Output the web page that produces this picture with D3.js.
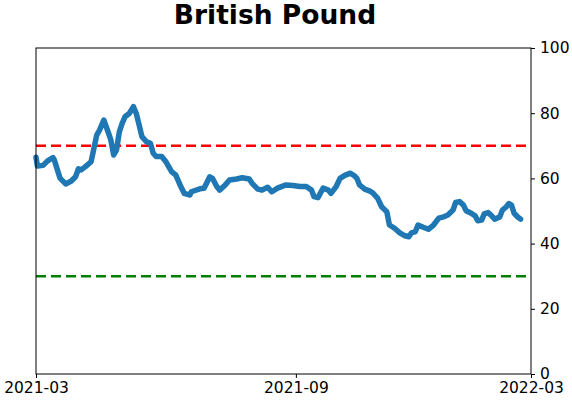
<!DOCTYPE html>
<html>
<head>
<meta charset="utf-8">
<script src="https://cdn.jsdelivr.net/npm/d3@7"></script>
<style>
  body { margin: 0; background: #fff; }
  text { font-family: "DejaVu Sans", sans-serif; }
</style>
</head>
<body>
<div id="chart"></div>
<script>
// values
var dates = [
  "2021-03-01","2021-03-02","2021-03-06","2021-03-09","2021-03-13","2021-03-14","2021-03-18","2021-03-22",
  "2021-03-26","2021-03-29","2021-03-31","2021-04-02","2021-04-05","2021-04-09","2021-04-11","2021-04-13",
  "2021-04-15","2021-04-18","2021-04-21","2021-04-23","2021-04-25","2021-04-27","2021-04-29","2021-05-01",
  "2021-05-03","2021-05-06","2021-05-09","2021-05-11","2021-05-13","2021-05-15","2021-05-18","2021-05-21",
  "2021-05-23","2021-05-25","2021-05-29","2021-06-01","2021-06-05","2021-06-08","2021-06-11","2021-06-14",
  "2021-06-18","2021-06-19","2021-06-25","2021-06-28","2021-07-02","2021-07-04","2021-07-07","2021-07-09",
  "2021-07-13","2021-07-16","2021-07-21","2021-07-25","2021-07-30","2021-08-01","2021-08-05","2021-08-08",
  "2021-08-12","2021-08-15","2021-08-19","2021-08-25","2021-08-30","2021-09-04","2021-09-09","2021-09-13",
  "2021-09-15","2021-09-18","2021-09-22","2021-09-26","2021-09-28","2021-10-02","2021-10-05","2021-10-09",
  "2021-10-13","2021-10-16","2021-10-18","2021-10-20","2021-10-24","2021-10-28","2021-10-30","2021-11-03",
  "2021-11-06","2021-11-10","2021-11-12","2021-11-16","2021-11-20","2021-11-24","2021-11-27","2021-11-29",
  "2021-12-02","2021-12-04","2021-12-08","2021-12-12","2021-12-16","2021-12-20","2021-12-23","2021-12-27",
  "2021-12-31","2022-01-02","2022-01-05","2022-01-08","2022-01-10","2022-01-14","2022-01-17","2022-01-19",
  "2022-01-22","2022-01-24","2022-01-27","2022-01-29","2022-02-01","2022-02-05","2022-02-07","2022-02-10",
  "2022-02-12","2022-02-14","2022-02-16","2022-02-19","2022-02-21"
];
var values = [
  66.5,63.8,64.0,65.3,66.4,65.6,60.1,58.3,
  59.2,60.5,62.9,62.6,63.6,65.1,69.2,73.3,
  74.8,77.9,74.3,71.8,67.2,68.7,74.3,76.9,
  78.9,79.9,82.0,79.9,76.4,72.8,71.3,70.8,
  67.7,66.7,66.7,65.1,62.1,61.0,58.0,55.4,
  54.9,55.9,56.8,57.0,60.5,60.0,57.5,56.4,
  58.0,59.5,59.8,60.2,59.8,58.5,56.7,56.4,
  57.3,55.9,57.0,58.0,57.8,57.5,57.5,56.4,
  54.4,54.1,57.0,56.4,55.4,57.5,60.0,61.0,
  61.6,60.8,60.0,58.0,56.7,56.1,55.6,53.9,
  51.3,49.8,45.7,44.7,43.3,42.4,42.1,43.3,
  43.7,45.7,45.0,44.4,45.7,47.8,48.1,48.8,
  50.3,52.6,52.9,51.8,50.1,49.3,48.5,47.0,
  47.2,49.1,49.5,48.8,47.5,48.2,50.3,51.3,
  52.3,51.8,49.3,48.1,47.5
];
var xTicks = ["2021-03-01", "2021-09-01", "2022-03-01"];
var yTicks = [0, 20, 40, 60, 80, 100];
var upperLevel = 70, lowerLevel = 30;

var parse = d3.timeParse("%Y-%m-%d");
var data = dates.map(function(d, i) { return {date: parse(d), value: values[i]}; });

var W = 572, H = 402;
var margin = {top: 48, right: 41, bottom: 28, left: 36},
    width = W - margin.left - margin.right,
    height = H - margin.top - margin.bottom;

var svg = d3.select("#chart").append("svg")
    .attr("width", W)
    .attr("height", H);

var g = svg.append("g")
    .attr("transform", "translate(" + margin.left + "," + margin.top + ")");

// the middle tick sits a bit right of centre in the reference
var x = d3.scaleTime()
    .domain(xTicks.map(parse))
    .range([0, width * 0.525, width]);

var y = d3.scaleLinear()
    .domain([0, 100])
    .range([height, 0]);

// threshold lines
g.append("line")
    .attr("x1", 0).attr("x2", width)
    .attr("y1", y(upperLevel)).attr("y2", y(upperLevel))
    .style("stroke", "#ff0000")
    .style("stroke-width", 2.5)
    .style("stroke-dasharray", "10,5");

g.append("line")
    .attr("x1", 0).attr("x2", width)
    .attr("y1", y(lowerLevel)).attr("y2", y(lowerLevel))
    .style("stroke", "#008000")
    .style("stroke-width", 2.5)
    .style("stroke-dasharray", "10,5");

var line = d3.line()
    .x(function(d) { return x(d.date); })
    .y(function(d) { return y(d.value); });

g.append("path")
    .datum(data)
    .attr("d", line)
    .style("fill", "none")
    .style("stroke", "#1f77b4")
    .style("stroke-width", 5.5)
    .style("stroke-linejoin", "round")
    .style("stroke-linecap", "round");

// frame
g.append("rect")
    .attr("width", width)
    .attr("height", height)
    .style("fill", "none")
    .style("stroke", "#000")
    .style("stroke-width", 1);

var xAxis = g.append("g")
    .attr("transform", "translate(0," + height + ")")
    .call(d3.axisBottom(x)
      .tickValues(xTicks.map(parse))
      .tickFormat(d3.timeFormat("%Y-%m"))
      .tickSize(4)
      .tickPadding(4));

var yAxis = g.append("g")
    .attr("transform", "translate(" + width + ",0)")
    .call(d3.axisRight(y)
      .tickValues(yTicks)
      .tickSize(4)
      .tickPadding(5));

[xAxis, yAxis].forEach(function(a) {
  a.select(".domain").remove();
  a.selectAll("text")
    .style("font-family", "DejaVu Sans, sans-serif")
    .style("font-size", "15.5px")
    .style("fill", "#000");
  a.selectAll("line").style("stroke", "#000");
});

svg.append("text")
    .attr("x", 275)
    .attr("y", 24)
    .attr("text-anchor", "middle")
    .style("font-size", "26.5px")
    .style("font-weight", "bold")
    .text("British Pound");
</script>
</body>
</html>
